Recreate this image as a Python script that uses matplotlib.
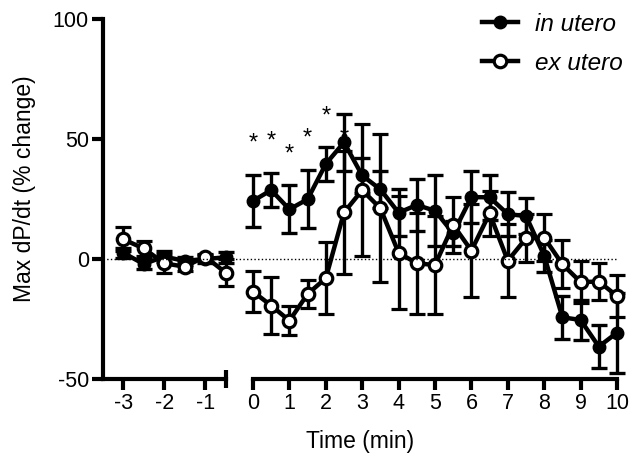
import numpy as np
import matplotlib
matplotlib.use("Agg")
from matplotlib import pyplot as plt
from matplotlib.lines import Line2D
from matplotlib.transforms import blended_transform_factory

plt.rcParams['font.family'] = ['Liberation Sans', 'DejaVu Sans']
plt.rcParams['axes.unicode_minus'] = False

# baseline (-3 a -0.5 min)
t_pre = [-3, -2.5, -2, -1.5, -1, -0.5]
in_pre = [2.6, -2.1, 1.0, -0.8, 0.0, 0.7]
in_pre_err = [2, 2, 2.2, 1.5, 1.5, 2.3]
ex_pre = [8.2, 4.4, -1.8, -3.2, 1.0, -5.7]
ex_pre_err = [5, 3, 4, 2, 1, 5.6]

# pós (0 a 10 min)
t_post = [0, 0.5, 1, 1.5, 2, 2.5, 3, 3.5, 4, 4.5, 5, 5.5, 6, 6.5, 7, 7.5, 8, 8.5, 9, 9.5, 10]
in_post = [24.2, 28.7, 20.7, 24.9, 39.6, 48.6, 34.8, 29.0, 19.3, 22.5, 20.1, 10.7, 25.8, 25.7,
           18.7, 17.9, 1.4, -24.3, -25.4, -36.5, -30.7]
in_post_err = [11, 7, 10, 12, 7, 12, 7.2, 7.8, 9.7, 11, 14.7, 5.3, 11, 9.3, 9.3, 7.6, 6.7,
               9, 8.3, 8.8, 16.7]
ex_post = [-13.6, -19.4, -25.7, -14.6, -8.0, 19.4, 28.7, 21.1, 2.6, -1.8, -2.5, 14.2, 3.5, 19.0,
           -0.7, 8.6, 8.9, -2.2, -9.6, -9.4, -15.4]
ex_post_err = [8.5, 12, 6, 6, 15, 25.8, 27.4, 30.8, 23.5, 21, 20.4, 11.8, 19.4, 9.3, 15.3, 10,
               9.7, 10, 8.9, 7.6, 8.8]

# asteriscos (significância)
star_t = [0, 0.5, 1, 1.5, 2, 2.5]
star_y = [50.3, 51.4, 45.7, 52.4, 61.8, 52.4]

fig = plt.figure(figsize=(6.38, 4.65), dpi=100)
W, H = 638, 465
ax1 = fig.add_axes([102.7/W, (H-379)/H, 123/W, 360/H])
ax2 = fig.add_axes([253/W, (H-379)/H, 364/W, 360/H])

lw = 3.2
ms = 9
cs = 5.5
ebw = 2.4

def desenha(ax, t, yi, ei, ye, ee):
    ax.errorbar(t, yi, yerr=ei, color='black', lw=lw, marker='o', ms=ms, mfc='black', mec='black',
                elinewidth=ebw, capsize=cs, capthick=ebw, clip_on=False, zorder=3)
    ax.errorbar(t, ye, yerr=ee, color='black', lw=lw, marker='o', ms=ms, mfc='white', mec='black',
                mew=2.3, elinewidth=ebw, capsize=cs, capthick=ebw, clip_on=False, zorder=4)

desenha(ax1, t_pre, in_pre, in_pre_err, ex_pre, ex_pre_err)
desenha(ax2, t_post, in_post, in_post_err, ex_post, ex_post_err)

# linha pontilhada no zero, atravessando os dois eixos
tr = blended_transform_factory(fig.transFigure, ax1.transData)
fig.add_artist(Line2D([102.7/W, 617/W], [0, 0], transform=tr, color='black', lw=1, ls=':', zorder=1))

for ax in (ax1, ax2):
    ax.set_ylim(-50, 100)
    for s in ['top', 'right']:
        ax.spines[s].set_visible(False)
    ax.spines['bottom'].set_linewidth(3)
    ax.spines['left'].set_linewidth(3)
    ax.tick_params(direction='out', width=3, length=8, pad=2, labelsize=15.5)
    ax.patch.set_visible(False)

ax1.set_xlim(-3.5, -0.5)
ax1.set_xticks([-3, -2, -1])
ax1.set_xticks([-0.5], minor=True)
ax1.tick_params(axis='x', which='minor', direction='inout', width=3, length=13)
ax1.set_yticks([-50, 0, 50, 100])

ax2.set_xlim(0, 10)
ax2.set_xticks(range(0, 11))
ax2.set_xticks([0, 10], minor=True)
ax2.tick_params(axis='x', which='minor', direction='in', width=3, length=6)
ax2.spines['left'].set_visible(False)
ax2.set_yticks([])

for t, y in zip(star_t, star_y):
    ax2.annotate('*', (t, y), xytext=(0, -4), textcoords='offset points', ha='center', va='center',
                 fontsize=17, zorder=2 if t == 2.5 else 5)

fig.text(25/W, 1 - 189/H, 'Max dP/dt (% change)', rotation=90, ha='center', va='center', fontsize=16.5)
fig.text(360/W, 1 - 441/H, 'Time (min)', ha='center', va='center', fontsize=16.5)

handles = [Line2D([], [], color='black', lw=lw, marker='o', ms=ms, mfc='black', mec='black'),
           Line2D([], [], color='black', lw=lw, marker='o', ms=ms, mfc='white', mec='black', mew=2.3)]
fig.legend(handles, ['in utero', 'ex utero'], loc='upper left', bbox_to_anchor=(472/W, 1 - 3/H),
           frameon=False, prop={'style': 'italic', 'size': 17.5}, handlelength=1.5,
           handletextpad=0.7, labelspacing=0.65, borderaxespad=0)

plt.savefig('out.png', dpi=100)
